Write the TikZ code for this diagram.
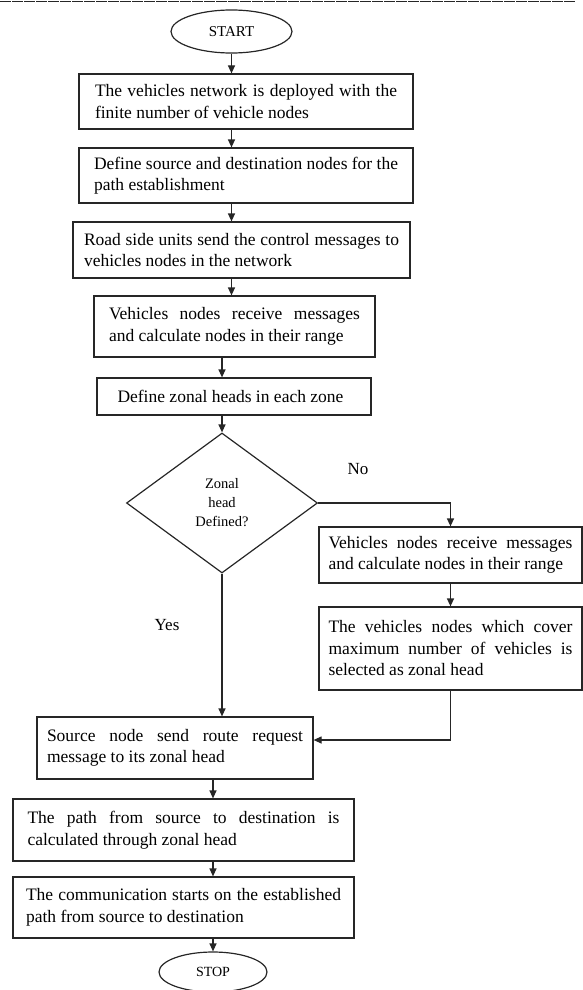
\documentclass[tikz,border=0pt]{standalone}
\usepackage{fontspec}
\setmainfont{Liberation Serif}
\usepackage{tikz}
\usetikzlibrary{shapes.geometric,arrows.meta}
\tikzstyle{procbox}=[draw=black!85,line width=1.2pt,inner xsep=2pt,inner ysep=0pt,align=justify,text=black,font=\fontsize{17.5}{21.5}\selectfont]
\tikzstyle{termnode}=[draw=black!85,line width=1.2pt,ellipse,inner sep=0pt,text=black,font=\fontsize{15}{17}\selectfont]
\tikzstyle{decnode}=[draw=black!85,line width=1.2pt,diamond,inner sep=0pt,aspect=1.36,align=center,text=black,font=\fontsize{14.5}{19}\selectfont]
\tikzstyle{flowarrow}=[draw=black!85,line width=1.2pt,-{Triangle[length=8pt,width=7pt]}]
\tikzstyle{branchlabel}=[text=black,font=\fontsize{17}{19}\selectfont]
\begin{document}
\begin{tikzpicture}[x=1pt,y=1pt]
\useasboundingbox (0,0) rectangle (583,-990);
\draw[black!85,line width=1pt,dash pattern=on 11pt off 1pt] (0,-1.5) -- (575,-1.5);
\node[termnode,minimum width=121pt,minimum height=43pt] (start) at (231.5,-31.5) {START};
\node[procbox,minimum width=334pt,minimum height=55pt,text width=302pt] (b1) at (246,-101.5) {The vehicles network is deployed with the\linebreak finite number of vehicle nodes};
\node[procbox,minimum width=334pt,minimum height=55pt,text width=304pt] (b2) at (246,-175.5) {Define source and destination nodes for the\linebreak path establishment};
\node[procbox,minimum width=337pt,minimum height=56pt,text width=315pt] (b3) at (241.5,-250) {Road side units send the control messages to\linebreak vehicles nodes in the network};
\node[procbox,minimum width=281pt,minimum height=61pt,text width=251pt] (b4) at (234.5,-326.5) {Vehicles nodes receive messages\linebreak and calculate nodes in their range};
\node[procbox,minimum width=274pt,minimum height=37pt,text width=233pt] (b5) at (234,-396.5) {Define zonal heads in each zone};
\node[decnode,minimum width=191pt,minimum height=140pt] (dec) at (222,-503) {Zonal\\head\\Defined?};
\node[branchlabel] (nolabel) at (358,-469) {No};
\node[procbox,minimum width=263pt,minimum height=56pt,text width=244pt] (b6) at (450.5,-555) {Vehicles nodes receive messages\linebreak and calculate nodes in their range};
\node[procbox,minimum width=263pt,minimum height=83pt,text width=244pt] (b7) at (450.5,-648.5) {The vehicles nodes which cover\linebreak maximum number of vehicles is\linebreak selected as zonal head};
\node[branchlabel] (yeslabel) at (167,-625) {Yes};
\node[procbox,minimum width=276pt,minimum height=62pt,text width=256pt] (b8) at (175,-748) {Source node send route request\linebreak message to its zonal head};
\node[procbox,minimum width=341pt,minimum height=62pt,text width=312pt] (b9) at (183.5,-830) {The path from source to destination is\linebreak calculated through zonal head};
\node[procbox,minimum width=341pt,minimum height=61pt,text width=315pt] (b10) at (183.5,-907.5) {The communication starts on the established\linebreak path from source to destination};
\node[termnode,minimum width=108pt,minimum height=40pt,font=\fontsize{14}{16}\selectfont] (stop) at (213,-972) {STOP};
\draw[flowarrow] (start.south) -- (start.south |- b1.north);
\draw[flowarrow] (b1.south -| start) -- (b2.north -| start);
\draw[flowarrow] (b2.south -| start) -- (b3.north -| start);
\draw[flowarrow] (b3.south -| start) -- (b4.north -| start);
\draw[flowarrow] (b4.south -| dec) -- (b5.north -| dec);
\draw[flowarrow] (b5.south -| dec) -- (dec.north);
\draw[flowarrow] (dec.east) -| (b6.north);
\draw[flowarrow] (b6.south) -- (b7.north);
\draw[flowarrow] (b7.south) |- ([yshift=8pt]b8.east);
\draw[flowarrow] (dec.south) -- (dec.south |- b8.north);
\draw[flowarrow] (b8.south -| stop) -- (b9.north -| stop);
\draw[flowarrow] (b9.south -| stop) -- (b10.north -| stop);
\draw[flowarrow] (b10.south -| stop) -- (stop.north);
\end{tikzpicture}
\end{document}
